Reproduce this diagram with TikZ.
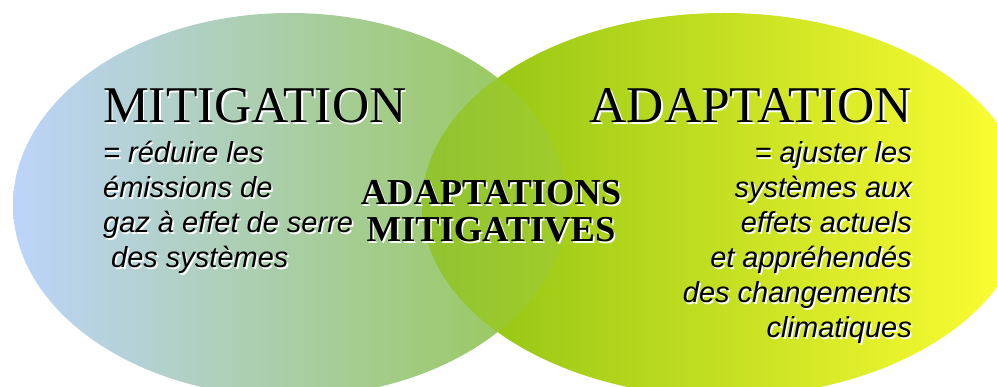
\documentclass[tikz,border=0pt]{standalone}
\usepackage{fontspec}
\setmainfont{Liberation Serif}
\newfontfamily\arialfam{Liberation Sans}
\definecolor{lblue}{RGB}{188,212,250}
\definecolor{lmid}{RGB}{182,212,222}
\definecolor{lgreen}{RGB}{150,200,80}
\definecolor{rgreen}{RGB}{138,192,18}
\definecolor{rmid}{RGB}{205,228,25}
\definecolor{ryellow}{RGB}{255,255,50}
\newcommand\shtext[4]{%
  \node[#3,text=white,xshift=1.6pt,yshift=-1.6pt] (#1s) at (#2) {#4};
  \node[#3] (#1) at (#2) {#4};}
\begin{document}
\begin{tikzpicture}[x=1pt,y=-1pt,
  title/.style={inner sep=0pt,font=\fontsize{51.5}{60}\selectfont},
  midtitle/.style={inner sep=0pt,anchor=base,font=\fontsize{36.5}{42}\selectfont\bfseries},
  body/.style={inner sep=0pt,font=\arialfam\itshape\fontsize{29}{35}\selectfont},
  lshade/.style={left color=lblue,middle color=lmid,right color=lgreen},
  rshade/.style={left color=rgreen,middle color=rmid,right color=ryellow}]
\useasboundingbox (0,0) rectangle (997,387);
\begin{scope}
\clip (0,0) rectangle (997,387);
\shade[lshade] (290,205) ellipse [x radius=277pt, y radius=192pt];
\shade[rshade] (724,205) ellipse [x radius=302pt, y radius=192pt];
\begin{scope}
\clip (724,205) ellipse [x radius=302pt, y radius=192pt];
\shade[lshade,opacity=0.3] (290,205) ellipse [x radius=277pt, y radius=192pt];
\end{scope}
\end{scope}
% headings
\shtext{mit}{103,123}{title,anchor=base west}{MITIGATION}
\shtext{ada}{912,123}{title,anchor=base east}{ADAPTATION}
\shtext{am1}{491,205}{midtitle}{ADAPTATIONS}
\shtext{am2}{491,242}{midtitle}{MITIGATIVES}
% left text
\shtext{l1}{103,163}{body,anchor=base west}{= réduire les}
\shtext{l2}{103,198}{body,anchor=base west}{émissions de}
\shtext{l3}{103,233}{body,anchor=base west}{gaz à effet de serre}
\shtext{l4}{111,268}{body,anchor=base west}{des systèmes}
% right text
\shtext{r1}{912,163}{body,anchor=base east}{= ajuster les}
\shtext{r2}{912,198}{body,anchor=base east}{systèmes aux}
\shtext{r3}{912,233}{body,anchor=base east}{effets actuels}
\shtext{r4}{912,268}{body,anchor=base east}{et appréhendés}
\shtext{r5}{912,303}{body,anchor=base east}{des changements}
\shtext{r6}{912,338}{body,anchor=base east}{climatiques}
\end{tikzpicture}
\end{document}
